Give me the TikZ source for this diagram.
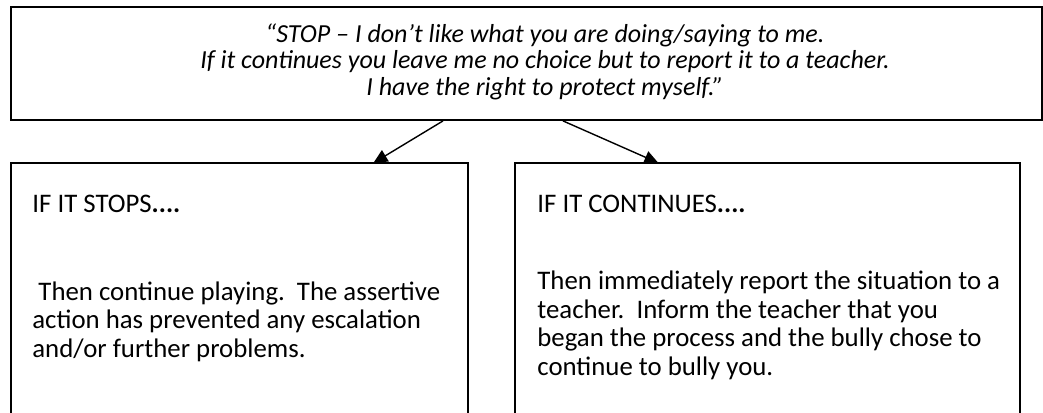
\documentclass[tikz,border=0pt]{standalone}
\usepackage{fontspec}
\setmainfont{Carlito}
\usetikzlibrary{arrows.meta}

\begin{document}
\begin{tikzpicture}[x=0.5pt,y=-0.5pt]
\tikzstyle{every node}+=[inner sep=0pt]
\tikzstyle{frame}=[line width=0.9pt]
\tikzstyle{link}=[line width=0.7pt,-{Triangle[length=7pt,width=6.5pt]}]
\tikzstyle{say}=[font=\fontsize{13}{13.25}\selectfont\itshape,align=center,anchor=base]
\tikzstyle{txt}=[font=\fontsize{13.4}{14.25}\selectfont,align=left,anchor=base west]
\useasboundingbox (0,0) rectangle (1043,412);
% quote at the top
\node [frame,draw,minimum width=515.5pt,minimum height=56.5pt] (quote) at (526.5,63.5) {};
\node [say] (quotetext) at (545,95) {“STOP – I don’t like what you are doing/saying to me.\\
If it continues you leave me no choice but to report it to a teacher.\\
I have the right to protect myself.”};
% the two outcomes, open at the bottom
\node [minimum width=228pt,minimum height=124.5pt,anchor=north west] (stops) at (11,163) {};
\node [minimum width=252pt,minimum height=124.5pt,anchor=north west] (goeson) at (515,163) {};
\draw [frame] (stops.south west) |- (stops.north east) -- (stops.south east);
\draw [frame] (goeson.south west) |- (goeson.north east) -- (goeson.south east);
\node [txt] (stopshead) at (32,212) {IF IT STOPS\textbf{....}};
\node [txt] (stopsbody) at (32,357) {\mbox{}\ Then continue playing.\ \ The assertive\\
action has prevented any escalation\\
and/or further problems.};
\node [txt] (goeshead) at (537,212) {IF IT CONTINUES\textbf{....}};
\node [txt] (goesbody) at (537,375) {Then immediately report the situation to a\\
teacher.\ \ Inform the teacher that you\\
began the process and the bully chose to\\
continue to bully you.};
% arrows
\draw [link] ([xshift=-41.75pt]quote.south) -- ([xshift=67pt]stops.north);
\draw [link] ([xshift=18.25pt]quote.south) -- ([xshift=-54.5pt]goeson.north);
\end{tikzpicture}
\end{document}
